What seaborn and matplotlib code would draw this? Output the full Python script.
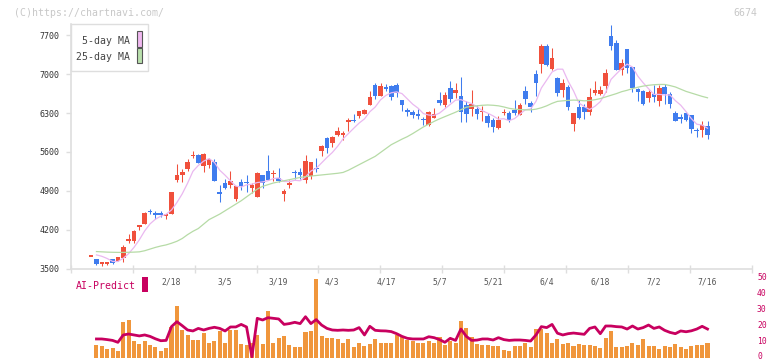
import numpy as np
import matplotlib
matplotlib.use("Agg")
import matplotlib.pyplot as plt
from matplotlib.patches import Rectangle
import matplotlib.transforms as mtransforms
import seaborn as sns

# ---------------- data ----------------
date_labels = ["2/18", "3/5", "3/19", "4/3", "4/17", "5/7", "5/21", "6/4", "6/18", "7/2", "7/16"]
date_label_index = [15, 25, 35, 45, 55, 65, 75, 85, 95, 105, 115]

opens = [3710, 3670, 3585, 3580, 3666, 3640, 3690, 3990, 3990, 4255,
         4310, 4530, 4500, 4500, 4452, 4490, 5095, 5190, 5286, 5525,
         5553, 5345, 5370, 5416, 4870, 5036, 5000, 4750, 5059, 5048,
         4952, 4786, 5179, 5250, 5196, 5125, 4845, 5012, 5232, 5232,
         5095, 5167, 5304, 5613, 5857, 5756, 5899, 5899, 6131, 6179,
         6238, 6286, 6446, 6809, 6607, 6775, 6786, 6809, 6536, 6357,
         6313, 6286, 6196, 6077, 6214, 6536, 6452, 6750, 6666, 6607,
         6446, 6369, 6375, 6316, 6250, 6179, 6023, 6298, 6309, 6357,
         6268, 6696, 6488, 7000, 7179, 7500, 7095, 6929, 6714, 6777,
         6107, 6417, 6405, 6316, 6666, 6643, 6780, 7696, 7554, 7077,
         7446, 7125, 6732, 6696, 6566, 6648, 6518, 6768, 6637, 6304,
         6232, 6304, 6268, 6000, 5988, 6066]
highs = [3715, 3680, 3620, 3625, 3680, 3710, 3930, 4125, 4185, 4290,
         4525, 4565, 4530, 4530, 4490, 4885, 5375, 5285, 5465, 5615,
         5570, 5575, 5495, 5475, 5000, 5105, 5250, 4990, 5105, 5180,
         5036, 5232, 5185, 5536, 5268, 5304, 4929, 5095, 5268, 5309,
         5553, 5420, 5482, 5732, 5860, 5880, 6054, 5982, 6214, 6286,
         6345, 6380, 6696, 6833, 6845, 6821, 6809, 6833, 6540, 6393,
         6357, 6380, 6226, 6339, 6393, 6679, 6679, 6880, 6845, 6946,
         6523, 6714, 6446, 6429, 6309, 6202, 6250, 6369, 6330, 6536,
         6476, 6786, 6523, 7071, 7536, 7548, 7464, 6952, 6916, 6804,
         6300, 6536, 6464, 6744, 6875, 6786, 7101, 7893, 7613, 7268,
         7450, 7130, 6756, 6720, 6709, 6804, 6804, 6827, 6673, 6330,
         6280, 6316, 6270, 6030, 6149, 6149]
lows = [3705, 3570, 3550, 3560, 3590, 3630, 3620, 3960, 3960, 4185,
        4305, 4480, 4395, 4430, 4385, 4485, 5050, 5050, 5255, 5495,
        5400, 5240, 5315, 5070, 4700, 4930, 4958, 4720, 4915, 4880,
        4857, 4780, 4958, 5090, 5077, 5059, 4714, 4958, 5119, 5107,
        5036, 5119, 5238, 5523, 5583, 5691, 5895, 5821, 5982, 6145,
        6202, 6280, 6440, 6548, 6600, 6691, 6541, 6595, 6339, 6238,
        6202, 6190, 6077, 6070, 6210, 6441, 6417, 6506, 6566, 6130,
        6130, 6250, 6190, 6149, 6041, 5952, 6020, 6268, 6140, 6262,
        6265, 6464, 6327, 6607, 7023, 7143, 7071, 6607, 6595, 6357,
        5970, 6190, 6196, 6256, 6625, 6625, 6673, 7434, 7070, 6994,
        7030, 6673, 6518, 6440, 6494, 6494, 6434, 6458, 6398, 6149,
        6113, 6161, 5946, 5870, 5875, 5827]
closes = [3710, 3585, 3620, 3620, 3607, 3700, 3880, 4035, 4180, 4290,
          4500, 4515, 4455, 4455, 4464, 4880, 5180, 5240, 5416, 5540,
          5405, 5571, 5465, 5077, 4834, 4952, 5071, 4988, 4988, 5036,
          5012, 5214, 5048, 5095, 5226, 5077, 4893, 5036, 5214, 5179,
          5429, 5416, 5286, 5702, 5666, 5875, 5982, 5946, 6179, 6149,
          6339, 6357, 6589, 6607, 6796, 6739, 6595, 6666, 6452, 6321,
          6265, 6238, 6173, 6321, 6286, 6476, 6631, 6559, 6714, 6327,
          6286, 6464, 6280, 6345, 6113, 6041, 6166, 6327, 6166, 6298,
          6446, 6554, 6405, 6845, 7500, 7166, 7286, 6655, 6845, 6417,
          6298, 6202, 6316, 6580, 6714, 6714, 7018, 7505, 7077, 7196,
          7113, 6756, 6685, 6470, 6673, 6595, 6756, 6637, 6470, 6161,
          6184, 6173, 6005, 5970, 6089, 5899]
ma5 = [np.nan, 3745, 3720, 3680, 3628, 3626, 3685, 3768, 3880, 4017,
       4177, 4304, 4388, 4443, 4478, 4554, 4687, 4844, 5036, 5251,
       5356, 5434, 5479, 5412, 5270, 5180, 5080, 4984, 4967, 5007,
       5019, 5048, 5060, 5081, 5119, 5132, 5068, 5065, 5089, 5080,
       5150, 5255, 5305, 5402, 5500, 5589, 5702, 5834, 5930, 6026,
       6119, 6194, 6323, 6408, 6538, 6618, 6665, 6681, 6650, 6555,
       6460, 6388, 6290, 6264, 6257, 6299, 6377, 6455, 6533, 6541,
       6503, 6470, 6414, 6340, 6298, 6249, 6189, 6198, 6163, 6200,
       6281, 6358, 6374, 6510, 6750, 6894, 7040, 7090, 7090, 6874,
       6700, 6483, 6416, 6363, 6422, 6505, 6668, 6906, 7006, 7102,
       7182, 7129, 6965, 6844, 6739, 6636, 6636, 6626, 6626, 6524,
       6442, 6325, 6199, 6099, 6084, 6027]
ma25 = [np.nan, 3805, 3800, 3795, 3792, 3790, 3790, 3792, 3795, 3800,
        3820, 3850, 3880, 3905, 3925, 3955, 3990, 4040, 4110, 4170,
        4220, 4300, 4380, 4430, 4480, 4540, 4600, 4660, 4720, 4790,
        4860, 4930, 4980, 5010, 5040, 5060, 5080, 5100, 5120, 5140,
        5155, 5165, 5175, 5185, 5195, 5205, 5215, 5230, 5270, 5320,
        5370, 5420, 5470, 5520, 5590, 5660, 5730, 5780, 5830, 5875,
        5930, 5990, 6050, 6100, 6150, 6195, 6235, 6275, 6315, 6360,
        6405, 6420, 6430, 6440, 6445, 6440, 6430, 6410, 6385, 6370,
        6362, 6358, 6357, 6370, 6395, 6430, 6475, 6510, 6520, 6528,
        6533, 6530, 6520, 6525, 6540, 6560, 6590, 6620, 6650, 6685,
        6710, 6740, 6765, 6785, 6800, 6810, 6815, 6815, 6795, 6770,
        6730, 6690, 6660, 6630, 6600, 6575]
volume = [np.nan, 8.1, 7.5, 5.6, 6.2, 4.4, 22.5, 23.75, 10.6, 8.75,
          10.6, 8.1, 6.9, 4.4, 6.2, 19.4, 32.5, 17.5, 14.4, 11.25,
          11.25, 15.6, 9.4, 10.6, 16.9, 9.4, 17.5, 17.5, 8.75, 8.1,
          9.4, 14.4, 8.75, 29.4, 9.4, 12.5, 13.75, 8.1, 6.9, 6.9,
          16.25, 16.9, 49.4, 13.75, 12.5, 12.5, 11.9, 9.4, 11.9, 6.9,
          9.4, 7.5, 8.75, 11.9, 9.4, 9.4, 9.4, 14.4, 13.75, 11.25,
          10.6, 9.4, 9.4, 10.6, 9.4, 13.1, 8.1, 10.6, 9.4, 23.1,
          18.75, 13.1, 8.75, 8.1, 8.1, 7.5, 7.5, 5.0, 4.4, 7.5,
          7.5, 9.4, 6.9, 18.1, 18.1, 15.6, 9.4, 11.9, 8.75, 9.4,
          7.5, 8.75, 8.1, 8.1, 7.5, 6.2, 12.5, 16.9, 6.9, 6.9,
          7.5, 9.4, 8.1, 11.9, 7.5, 7.5, 5.6, 7.5, 6.9, 8.75,
          6.9, 5.6, 7.5, 8.1, 8.1, 9.4]
ai_predict = [np.nan, 11.9, 11.9, 11.5, 11.0, 9.8, 14.4, 15.0, 14.4, 13.8,
              14.4, 13.5, 12.0, 10.8, 11.0, 19.6, 22.7, 20.2, 17.5, 16.9,
              18.5, 17.5, 18.5, 19.2, 18.5, 16.9, 19.4, 19.4, 21.0, 19.4,
              0.8, 24.8, 23.75, 25.2, 24.8, 24.4, 21.0, 21.5, 22.3, 21.5,
              25.8, 21.5, 24.0, 20.6, 18.5, 17.5, 17.3, 17.5, 17.3, 17.5,
              19.0, 14.4, 19.8, 17.3, 17.0, 16.9, 16.5, 15.2, 13.5, 12.3,
              11.9, 11.9, 11.9, 13.3, 12.7, 11.5, 9.8, 12.3, 11.0, 18.1,
              13.5, 11.0, 11.2, 11.9, 11.9, 11.25, 12.7, 11.5, 11.0, 11.25,
              11.25, 11.0, 10.6, 14.4, 19.6, 19.0, 21.0, 15.5, 14.4, 15.2,
              15.6, 15.2, 14.8, 18.5, 19.4, 15.2, 20.0, 20.0, 19.6, 19.4,
              18.1, 20.0, 18.1, 19.0, 20.6, 18.5, 19.4, 17.3, 16.0, 15.2,
              16.9, 16.4, 17.0, 18.1, 19.8, 18.1]
price_ticks = [3500, 4200, 4900, 5600, 6300, 7000, 7700]
ai_ticks = [0, 10, 20, 30, 40, 50]

# ---------------- layout helpers ----------------
W, H = 772, 361
fig = plt.figure(figsize=(W / 100, H / 100), dpi=100)
fig.patch.set_facecolor("white")


def fx(x):
    return x / W


def fy(y):
    return 1 - y / H


X0, X1 = 70.7, 752.0
STEP = 5.36
XI0 = 91.1
Y_TOP, Y_BOT = 24.0, 268.5
PX_PER_100 = 5.552

MONO = "DejaVu Sans Mono"
RED = "#f0503c"
BLUE = "#3f7cee"
PINK = "#eab8f0"
GREEN = "#b6dba6"
CRIMSON = "#c8005f"
ORANGE = "#f0963c"
GRID = "#dedede"

xlim = ((X0 - XI0) / STEP, (X1 - XI0) / STEP)

ax = fig.add_axes([fx(X0), fy(Y_BOT), (X1 - X0) / W, (Y_BOT - Y_TOP) / H])
ax2 = fig.add_axes([fx(X0), fy(358), (X1 - X0) / W, 80 / H])

idx = np.arange(len(closes))
o = np.array(opens, float)
c = np.array(closes, float)
hi = np.array(highs, float)
lo = np.array(lows, float)
up = c >= o
cols = np.where(up, RED, BLUE)
body_bottom = np.minimum(o, c)
body_h = np.maximum(np.abs(c - o), 25)

# ---------------- main candle panel ----------------
ax.vlines(idx, lo, hi, colors=cols, linewidth=0.75, zorder=2)
ax.bar(idx, body_h, bottom=body_bottom, width=0.86, color=cols, linewidth=0, zorder=3)
sns.lineplot(x=idx, y=ma5, ax=ax, color=PINK, linewidth=0.9, zorder=4)
sns.lineplot(x=idx, y=ma25, ax=ax, color=GREEN, linewidth=0.9, zorder=4)

ax.set_xlim(*xlim)
ax.set_ylim(3500, 3500 + (Y_BOT - Y_TOP) / PX_PER_100 * 100)
ax.set_xlabel("")
ax.set_ylabel("")
for s in ["top", "right"]:
    ax.spines[s].set_visible(False)
for s in ["left", "bottom"]:
    ax.spines[s].set_color(GRID)
    ax.spines[s].set_linewidth(1.2)
ax.set_xticks(np.linspace(xlim[0], xlim[1], 12))
ax.set_xticklabels([])
ax.tick_params(axis="x", direction="inout", length=5.8, width=1.0, color=GRID)
ax.set_yticks(price_ticks)
ax.set_yticklabels([str(t) for t in price_ticks], fontfamily=MONO, fontsize=6, color="#333333")
ax.tick_params(axis="y", direction="out", length=3.6, width=1.0, color=GRID, pad=4.6)
ax.set_facecolor("none")

# ---------------- lower AI-Predict panel ----------------
sns.barplot(x=idx[1:], y=volume[1:], ax=ax2, native_scale=True, color=ORANGE,
            saturation=1, width=0.75, errorbar=None, linewidth=0)
sns.lineplot(x=idx[1:], y=ai_predict[1:], ax=ax2, color=CRIMSON, linewidth=2.0, zorder=5)
ax2.set_xlim(*xlim)
ax2.set_ylim(0, 50)
ax2.set_xlabel("")
ax2.set_ylabel("")
for s in ax2.spines.values():
    s.set_visible(False)
ax2.set_xticks([])
ax2.set_yticks([])
ax2.set_facecolor("none")

# right-hand scale labels (0 label nudged up slightly so it stays inside the image)
right_blend = mtransforms.blended_transform_factory(fig.transFigure, ax2.transData)
for t in ai_ticks:
    yv = t if t > 0 else 0.9
    ax2.text(fx(757), yv, str(t), transform=right_blend, ha="left", va="center",
             fontfamily=MONO, fontsize=5.8, color=CRIMSON)

blend = mtransforms.blended_transform_factory(ax2.transData, ax2.transAxes)
for lab, i in zip(date_labels, date_label_index):
    ax2.text(i, (358 - 282.3) / 80, lab, transform=blend, ha="center", va="center",
             fontfamily=MONO, fontsize=5.8, color="#555555")

fig.text(fx(75.5), fy(285.8), "AI-Predict", fontfamily=MONO, fontsize=7.1,
         color=CRIMSON, ha="left", va="center")
fig.add_artist(Rectangle((fx(142.2), fy(292.3)), 6.3 / W, 15.3 / H,
                         transform=fig.transFigure, facecolor=CRIMSON, edgecolor="none"))

# ---------------- legend box ----------------
fig.add_artist(Rectangle((fx(70.7), fy(71)), (148 - 70.7) / W, 47 / H,
                         transform=fig.transFigure, facecolor="white", edgecolor=GRID, linewidth=1.0))
fig.add_artist(Rectangle((fx(136.9), fy(46.5)), 5.4 / W, 15.2 / H,
                         transform=fig.transFigure, facecolor="#f0b8f0", edgecolor="#555555", linewidth=0.8))
fig.add_artist(Rectangle((fx(136.9), fy(63.2)), 5.4 / W, 15.0 / H,
                         transform=fig.transFigure, facecolor="#b9e0ac", edgecolor="#555555", linewidth=0.8))
fig.text(fx(130), fy(40.8), "5-day MA", fontfamily=MONO, fontsize=7.1, color="#444444",
         ha="right", va="center")
fig.text(fx(130), fy(57.4), "25-day MA", fontfamily=MONO, fontsize=7.1, color="#444444",
         ha="right", va="center")

# ---------------- header texts ----------------
fig.text(fx(14), fy(12.5), "(C)https://chartnavi.com/", fontfamily=MONO, fontsize=7.1,
         color="#c8c8c8", ha="left", va="center")
fig.text(fx(757), fy(12.5), "6674", fontfamily=MONO, fontsize=7.1,
         color="#c8c8c8", ha="right", va="center")

fig.savefig("out.png", dpi=100, facecolor="white")
